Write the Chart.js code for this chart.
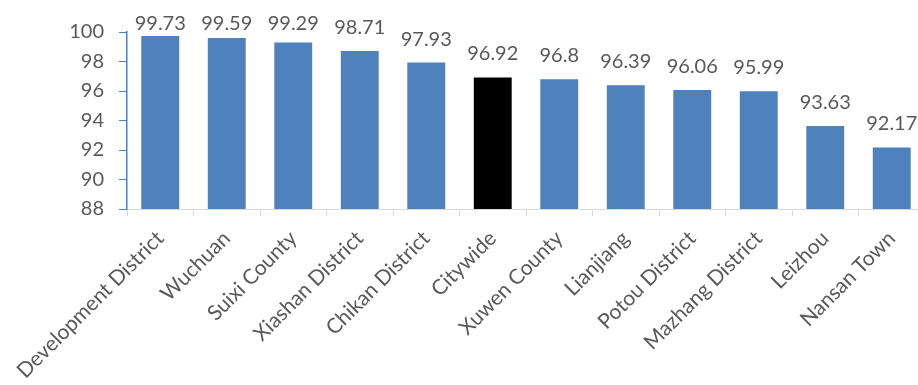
<!DOCTYPE html>
<html>
<head>
<meta charset="utf-8">
<script src="https://cdn.jsdelivr.net/npm/chart.js@4/dist/chart.umd.min.js"></script>
<style>
  html, body { margin: 0; padding: 0; background: #fff; overflow: hidden; }
  #wrap { width: 930px; height: 385px; }
</style>
</head>
<body>
<div id="wrap"><canvas id="chart" width="930" height="385"></canvas></div>
<script>
// Satisfaction score by area
const areas = [
  'Development District', 'Wuchuan', 'Suixi County', 'Xiashan District',
  'Chikan District', 'Citywide', 'Xuwen County', 'Lianjiang',
  'Potou District', 'Mazhang District', 'Leizhou', 'Nansan Town'
];
const scores = [99.73, 99.59, 99.29, 98.71, 97.93, 96.92, 96.8, 96.39, 96.06, 95.99, 93.63, 92.17];
const scoreLabels = ['99.73', '99.59', '99.29', '98.71', '97.93', '96.92', '96.8', '96.39', '96.06', '95.99', '93.63', '92.17'];
const yTicks = [88, 90, 92, 94, 96, 98, 100];

const BLUE = '#4f81bd';
const TEXT = '#595959';
const FONT = 'Lato, "Open Sans", sans-serif';

const barColors = areas.map(a => a === 'Citywide' ? '#000000' : BLUE);

// value labels above each bar, kept from running off the top
const valueLabels = {
  id: 'valueLabels',
  afterDatasetsDraw( chart ) {
    const ctx = chart.ctx;
    const meta = chart.getDatasetMeta( 0 );
    ctx.save();
    ctx.font = '20px ' + FONT;
    ctx.fillStyle = TEXT;
    ctx.textAlign = 'center';
    ctx.textBaseline = 'alphabetic';
    meta.data.forEach( ( bar, i ) => {
      const y = Math.max( bar.y - 17, 30 );
      ctx.fillText( scoreLabels[i], bar.x, y );
    } );
    ctx.restore();
  }
};

new Chart( document.getElementById( 'chart' ), {
  type: 'bar',
  data: {
    labels: areas,
    datasets: [ {
      data: scores,
      backgroundColor: barColors,
      borderWidth: 0,
      categoryPercentage: 1,
      barPercentage: 0.57
    } ]
  },
  options: {
    responsive: false,
    animation: false,
    layout: { padding: { top: 32, right: 5, left: 0, bottom: 0 } },
    plugins: {
      legend: { display: false },
      tooltip: { enabled: false }
    },
    scales: {
      x: {
        grid: {
          offset: true,
          drawOnChartArea: false,
          drawTicks: true,
          tickLength: 7,
          color: '#d9d9d9'
        },
        border: { color: '#d9d9d9', width: 1 },
        ticks: {
          minRotation: 45,
          maxRotation: 45,
          autoSkip: false,
          padding: 10,
          color: TEXT,
          font: { family: FONT, size: 21 }
        },
        afterFit( scale ) { scale.height = 176; }
      },
      y: {
        min: 88,
        max: 100,
        afterBuildTicks( scale ) { scale.ticks = yTicks.map( v => ( { value: v } ) ); },
        grid: {
          drawOnChartArea: false,
          drawTicks: true,
          tickLength: 8,
          color: BLUE
        },
        border: { color: BLUE, width: 1.5 },
        ticks: {
          padding: 15,
          color: TEXT,
          font: { family: FONT, size: 20 }
        },
        afterFit( scale ) { scale.width = 127; }
      }
    }
  },
  plugins: [ valueLabels ]
} );
</script>
</body>
</html>
